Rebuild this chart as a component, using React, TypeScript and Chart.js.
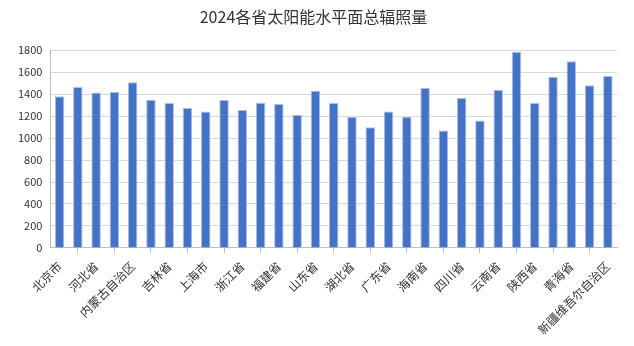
import React, { useEffect, useRef } from "react";
import { Chart, registerables } from "chart.js";

Chart.register(...registerables);

const provinces = [
  "北京市", "天津市", "河北省", "山西省", "内蒙古自治区", "辽宁省", "吉林省", "黑龙江省",
  "上海市", "江苏省", "浙江省", "安徽省", "福建省", "江西省", "山东省", "河南省",
  "湖北省", "湖南省", "广东省", "广西壮族自治区", "海南省", "重庆市", "四川省", "贵州省",
  "云南省", "西藏自治区", "陕西省", "甘肃省", "青海省", "宁夏回族自治区", "新疆维吾尔自治区",
];

const radiation = [
  1380, 1465, 1416, 1419, 1508, 1349, 1319, 1273,
  1243, 1346, 1255, 1322, 1310, 1212, 1431, 1319,
  1191, 1099, 1243, 1194, 1456, 1069, 1364, 1160,
  1441, 1785, 1319, 1559, 1699, 1480, 1565,
];

const yTicks = [0, 200, 400, 600, 800, 1000, 1200, 1400, 1600, 1800];

const title = "2024各省太阳能水平面总辐照量";

export default function App() {
  const ref = useRef<HTMLCanvasElement | null>(null);
  useEffect(() => {
    if (!ref.current) return;
    const font = "'Noto Sans CJK SC', 'Microsoft YaHei', sans-serif";
    const chart = new Chart(ref.current, {
      type: "bar",
      data: {
        labels: provinces,
        datasets: [
          {
            label: title,
            data: radiation,
            backgroundColor: "#4472C4",
            borderColor: "#a9bfe6",
            borderWidth: { top: 1, left: 1, right: 1, bottom: 0 },
            barPercentage: 0.52,
            categoryPercentage: 1,
          },
        ],
      },
      options: {
        animation: false,
        responsive: false,
        maintainAspectRatio: false,
        layout: { padding: { left: 10, right: 17, top: 5, bottom: 3 } },
        plugins: {
          legend: { display: false },
          tooltip: { enabled: false },
          title: {
            display: true,
            text: title,
            color: "#333333",
            font: { family: font, size: 16, weight: "normal" },
            padding: { top: 2, bottom: 24 },
          },
        },
        scales: {
          x: {
            grid: {
              display: true,
              drawOnChartArea: false,
              drawTicks: true,
              tickLength: 5,
              color: "#bfbfbf",
            },
            border: { color: "#bfbfbf" },
            ticks: {
              autoSkip: false,
              maxRotation: 45,
              minRotation: 45,
              color: "#333333",
              padding: 6,
              font: { family: font, size: 12 },
              callback: (_v: any, i: number) => (i % 2 === 0 ? provinces[i] : null),
            },
          },
          y: {
            min: 0,
            max: 1800,
            afterBuildTicks: (axis: any) => {
              axis.ticks = yTicks.map((v) => ({ value: v }));
            },
            grid: { color: "#d9d9d9", drawTicks: false },
            border: { color: "#bfbfbf" },
            ticks: {
              color: "#333333",
              padding: 8,
              font: { family: font, size: 11 },
              callback: (v: any) => String(v),
            },
          },
        },
      },
    });
    return () => chart.destroy();
  }, []);
  return (
    <div style={{ position: "fixed", left: 0, top: 0, width: 634, height: 346, background: "#fff" }}>
      <canvas ref={ref} width={634} height={346} style={{ display: "block" }} />
    </div>
  );
}
